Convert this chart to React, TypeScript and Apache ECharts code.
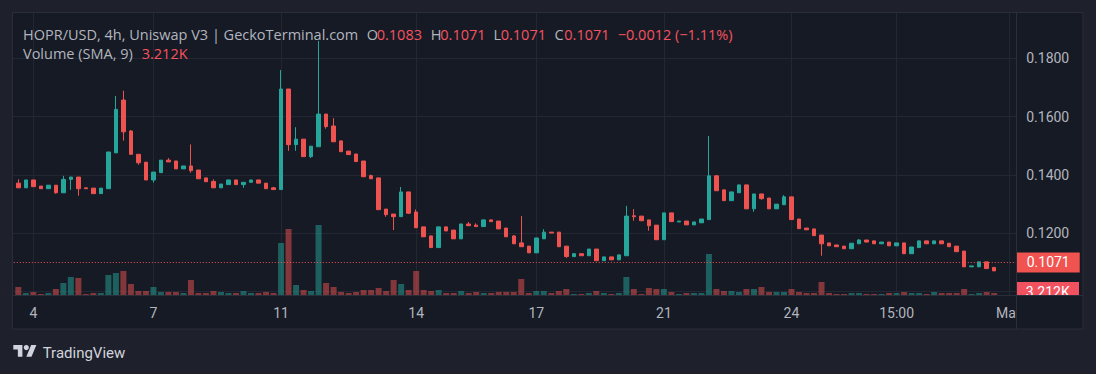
import React, { useEffect, useRef } from 'react';
import * as echarts from 'echarts';

// ---- data (HOPR/USD 4h candles) ----
const open = [
  0.1372, 0.1356, 0.1383, 0.1362, 0.1353, 0.1365, 0.1339, 0.1385, 0.1393, 0.1356,
  0.1355, 0.1336, 0.1353, 0.1476, 0.1657, 0.1551, 0.1471, 0.1444, 0.1383, 0.1408,
  0.1451, 0.1448, 0.1421, 0.1431, 0.1417, 0.1390, 0.1378, 0.1356, 0.1367, 0.1383,
  0.1367, 0.1375, 0.1383, 0.1372, 0.1356, 0.1350, 0.1695, 0.1504, 0.1523, 0.1463,
  0.1497, 0.1609, 0.1568, 0.1517, 0.1482, 0.1472, 0.1448, 0.1398, 0.1390, 0.1283,
  0.1266, 0.1257, 0.1342, 0.1273, 0.1222, 0.1191, 0.1151, 0.1222, 0.1211, 0.1181,
  0.1232, 0.1228, 0.1223, 0.1246, 0.1242, 0.1218, 0.1191, 0.1167, 0.1156, 0.1133,
  0.1181, 0.1204, 0.1204, 0.1156, 0.1120, 0.1130, 0.1123, 0.1146, 0.1106, 0.1119,
  0.1109, 0.1123, 0.1260, 0.1259, 0.1246, 0.1228, 0.1178, 0.1270, 0.1239, 0.1242,
  0.1229, 0.1236, 0.1247, 0.1397, 0.1349, 0.1312, 0.1339, 0.1366, 0.1284, 0.1335,
  0.1321, 0.1284, 0.1298, 0.1325, 0.1249, 0.1218, 0.1215, 0.1194, 0.1167, 0.1160,
  0.1156, 0.1147, 0.1164, 0.1177, 0.1174, 0.1164, 0.1170, 0.1157, 0.1167, 0.1130,
  0.1151, 0.1174, 0.1164, 0.1174, 0.1166, 0.1156, 0.1139, 0.1085, 0.1085, 0.1102,
  0.1083,
];
const close = [
  0.1356, 0.1383, 0.1360, 0.1353, 0.1365, 0.1339, 0.1385, 0.1393, 0.1353, 0.1353,
  0.1336, 0.1355, 0.1479, 0.1625, 0.1548, 0.1471, 0.1442, 0.1383, 0.1410, 0.1451,
  0.1445, 0.1421, 0.1431, 0.1415, 0.1387, 0.1377, 0.1356, 0.1369, 0.1383, 0.1367,
  0.1375, 0.1383, 0.1372, 0.1353, 0.1350, 0.1695, 0.1504, 0.1523, 0.1463, 0.1499,
  0.1609, 0.1566, 0.1514, 0.1480, 0.1470, 0.1446, 0.1394, 0.1387, 0.1281, 0.1264,
  0.1257, 0.1342, 0.1269, 0.1219, 0.1188, 0.1151, 0.1222, 0.1208, 0.1181, 0.1232,
  0.1226, 0.1223, 0.1246, 0.1240, 0.1215, 0.1188, 0.1164, 0.1154, 0.1133, 0.1184,
  0.1204, 0.1201, 0.1154, 0.1120, 0.1130, 0.1123, 0.1146, 0.1106, 0.1119, 0.1109,
  0.1126, 0.1259, 0.1257, 0.1243, 0.1226, 0.1178, 0.1270, 0.1240, 0.1242, 0.1229,
  0.1239, 0.1249, 0.1397, 0.1346, 0.1312, 0.1342, 0.1366, 0.1284, 0.1335, 0.1319,
  0.1284, 0.1300, 0.1325, 0.1247, 0.1216, 0.1212, 0.1192, 0.1164, 0.1157, 0.1154,
  0.1147, 0.1166, 0.1177, 0.1170, 0.1164, 0.1170, 0.1157, 0.1167, 0.1130, 0.1153,
  0.1174, 0.1164, 0.1174, 0.1164, 0.1154, 0.1137, 0.1085, 0.1088, 0.1102, 0.1079,
  0.1071,
];
const low = [
  0.1356, 0.1356, 0.1360, 0.1353, 0.1353, 0.1336, 0.1339, 0.1349, 0.1329, 0.1353,
  0.1336, 0.1336, 0.1353, 0.1476, 0.1518, 0.1471, 0.1435, 0.1383, 0.1374, 0.1408,
  0.1445, 0.1421, 0.1421, 0.1408, 0.1387, 0.1377, 0.1356, 0.1356, 0.1367, 0.1367,
  0.1356, 0.1375, 0.1372, 0.1353, 0.1350, 0.1350, 0.1483, 0.1483, 0.1463, 0.1458,
  0.1497, 0.1559, 0.1514, 0.1480, 0.1470, 0.1446, 0.1394, 0.1387, 0.1281, 0.1257,
  0.1211, 0.1257, 0.1266, 0.1219, 0.1188, 0.1151, 0.1151, 0.1208, 0.1181, 0.1181,
  0.1226, 0.1223, 0.1223, 0.1240, 0.1215, 0.1188, 0.1164, 0.1154, 0.1133, 0.1133,
  0.1181, 0.1201, 0.1154, 0.1116, 0.1120, 0.1123, 0.1123, 0.1106, 0.1106, 0.1109,
  0.1109, 0.1123, 0.1243, 0.1243, 0.1209, 0.1178, 0.1178, 0.1240, 0.1239, 0.1229,
  0.1229, 0.1236, 0.1247, 0.1346, 0.1312, 0.1312, 0.1339, 0.1284, 0.1274, 0.1315,
  0.1284, 0.1284, 0.1298, 0.1247, 0.1216, 0.1212, 0.1192, 0.1123, 0.1157, 0.1154,
  0.1147, 0.1147, 0.1164, 0.1170, 0.1164, 0.1164, 0.1157, 0.1157, 0.1130, 0.1130,
  0.1151, 0.1164, 0.1164, 0.1164, 0.1154, 0.1137, 0.1085, 0.1085, 0.1085, 0.1079,
  0.1071,
];
const high = [
  0.1385, 0.1383, 0.1383, 0.1362, 0.1365, 0.1365, 0.1397, 0.1393, 0.1393, 0.1356,
  0.1355, 0.1355, 0.1479, 0.1671, 0.1689, 0.1554, 0.1471, 0.1444, 0.1410, 0.1451,
  0.1458, 0.1448, 0.1431, 0.1505, 0.1417, 0.1390, 0.1385, 0.1369, 0.1383, 0.1383,
  0.1375, 0.1383, 0.1383, 0.1372, 0.1359, 0.1760, 0.1695, 0.1564, 0.1523, 0.1499,
  0.1860, 0.1609, 0.1595, 0.1517, 0.1482, 0.1472, 0.1448, 0.1401, 0.1390, 0.1283,
  0.1266, 0.1359, 0.1342, 0.1282, 0.1222, 0.1191, 0.1222, 0.1222, 0.1211, 0.1232,
  0.1239, 0.1234, 0.1246, 0.1246, 0.1242, 0.1218, 0.1194, 0.1259, 0.1156, 0.1184,
  0.1214, 0.1204, 0.1204, 0.1156, 0.1130, 0.1130, 0.1146, 0.1146, 0.1119, 0.1119,
  0.1126, 0.1294, 0.1283, 0.1259, 0.1246, 0.1228, 0.1270, 0.1270, 0.1242, 0.1242,
  0.1239, 0.1249, 0.1534, 0.1400, 0.1349, 0.1342, 0.1366, 0.1366, 0.1335, 0.1335,
  0.1321, 0.1300, 0.1331, 0.1325, 0.1249, 0.1218, 0.1215, 0.1194, 0.1167, 0.1160,
  0.1156, 0.1166, 0.1180, 0.1177, 0.1174, 0.1170, 0.1170, 0.1167, 0.1167, 0.1153,
  0.1174, 0.1174, 0.1174, 0.1174, 0.1166, 0.1156, 0.1139, 0.1088, 0.1102, 0.1102,
  0.1083,
];
// volume in thousands (K)
const volumeK = [
  10, 2.5, 3.8, 1.3, 2.5, 7.5, 15, 22.5, 21.3, 1.3,
  2.5, 2.5, 25, 27.5, 30, 13.8, 5, 5, 10, 3.8,
  3.8, 3.8, 2.5, 18.8, 2.5, 2.5, 5, 3.8, 2.5, 2.5,
  5, 2.5, 2.5, 3.8, 2.5, 65, 82.5, 12.5, 6.3, 5,
  87.5, 15, 10, 3.8, 2.5, 3.8, 6.3, 6.3, 8.8, 5,
  18.8, 13.8, 6.3, 30, 6.3, 5, 6.3, 2.5, 2.5, 5,
  2.5, 3.8, 2.5, 2.5, 3.8, 3.8, 3.8, 20, 2.5, 5,
  5, 2.5, 5, 7.5, 1.3, 1.3, 2.5, 5, 2.5, 1.3,
  2.5, 22.5, 7.5, 1.3, 8.8, 7.5, 7.5, 3.8, 1.3, 2.5,
  2.5, 2.5, 51.3, 7.5, 5, 5, 3.8, 7.5, 7.5, 10,
  3.8, 3.8, 3.8, 7.5, 3.8, 2.5, 2.5, 16.3, 2.5, 1.3,
  1.3, 2.5, 2.5, 1.3, 1.3, 1.3, 2.5, 2.5, 3.8, 2.5,
  2.5, 1.3, 3.8, 2.5, 2.5, 2.5, 7.5, 1.3, 2.5, 3.8,
  2.5,
];
const tickLabels = ['4', '7', '11', '14', '17', '21', '24', '15:00', 'May'];
const tickCandleIndex = [2, 18, 35, 53, 69, 86, 103, 117, 132];
const lastPrice = 0.1071;
const volumeSma = '3.212K';
const headerTitle = 'HOPR/USD, 4h, Uniswap V3 | GeckoTerminal.com';
const ohlcText = { O: '0.1083', H: '0.1071', L: '0.1071', C: '0.1071' };
const changeText = '\u22120.0012 (\u22121.11%)';
const priceMin = 0.08;
const priceMax = 0.2;
const priceStep = 0.02;

// ---- style ----
const UP = '#26a69a';
const DOWN = '#ef5350';
const UP_VOL = 'rgba(38,166,154,0.5)';
const DOWN_VOL = 'rgba(239,83,80,0.5)';
const PANEL = '#161a25';
const OUTER = '#1e212c';
const BORDER = '#2a2e39';
const GRID = '#232733';
const TEXT = '#b2b5be';
const RED_TEXT = '#f7525f';
const FONT = 'Roboto, "Noto Sans", sans-serif';
const LEGEND_FONT = '"Open Sans", "Noto Sans", sans-serif';

echarts.graphic.registerShape(
  'tvlogo',
  echarts.graphic.extendPath('M14 22H7V11H0V4h14v18zM28 22h-8l7.5-18h8L28 22z', {}) as any
);

const LEAD = 1;
const TRAIL = 3;
const nCats = LEAD + open.length + TRAIL;
const categories: string[] = Array.from({ length: nCats }, () => '');
tickCandleIndex.forEach((ci, k) => {
  categories[ci + LEAD] = tickLabels[k];
});

export default function App() {
  const ref = useRef<HTMLDivElement>(null);
  useEffect(() => {
    const chart = echarts.init(ref.current!, null, { renderer: 'svg' });
    const candleData = open.map((o, i) => [i + LEAD, o, close[i], low[i], high[i]]);
    const volData = volumeK.map((v, i) => ({
      value: [i + LEAD, v],
      itemStyle: { color: close[i] >= open[i] ? UP_VOL : DOWN_VOL },
    }));
    const isTick = (idx: number) => categories[idx] !== '';
    const gx = { left: 10.8, width: 1005.9 };

    const t = (x: number, y: number, text: string, fill: string) => ({
      type: 'text',
      x,
      y,
      z: 110,
      style: { text, fill, font: `14.5px ${LEGEND_FONT}`, verticalAlign: 'middle' },
    });

    chart.setOption({
      animation: false,
      backgroundColor: PANEL,
      textStyle: { fontFamily: FONT },
      grid: [
        { ...gx, top: 0.1, height: 349.8 },
        { ...gx, top: 13, height: 282 },
      ],
      xAxis: [
        {
          type: 'category',
          gridIndex: 0,
          data: categories,
          boundaryGap: false,
          axisLine: { show: false },
          axisTick: { show: false },
          axisLabel: { show: false },
          splitLine: { show: false },
        },
        {
          type: 'category',
          gridIndex: 1,
          data: categories,
          boundaryGap: false,
          axisLine: { show: false },
          axisTick: { show: false },
          axisLabel: {
            interval: (idx: number) => isTick(idx),
            color: TEXT,
            fontSize: 14,
            margin: 11,
          },
          splitLine: {
            show: true,
            interval: (idx: number) => isTick(idx),
            lineStyle: { color: GRID, width: 1 },
          },
        },
      ],
      yAxis: [
        {
          type: 'value',
          gridIndex: 0,
          position: 'right',
          min: priceMin,
          max: priceMax,
          interval: priceStep,
          axisLine: { show: false },
          axisTick: { show: false },
          axisLabel: {
            color: TEXT,
            fontSize: 14,
            margin: 9.5,
            formatter: (v: number) => (v > 0.19 || v < 0.11 ? '' : v.toFixed(4)),
          },
          splitLine: { show: true, lineStyle: { color: GRID, width: 1 } },
        },
        {
          type: 'value',
          gridIndex: 1,
          min: 0,
          max: 352.5,
          show: false,
          splitLine: { show: false },
        },
      ],
      series: [
        {
          type: 'bar',
          xAxisIndex: 1,
          yAxisIndex: 1,
          data: volData,
          barWidth: 6,
          z: 1,
          silent: true,
        },
        {
          type: 'candlestick',
          xAxisIndex: 0,
          yAxisIndex: 0,
          data: candleData,
          encode: { x: 0, y: [1, 2, 3, 4] },
          barWidth: 4,
          z: 3,
          itemStyle: {
            color: UP,
            color0: DOWN,
            borderColor: UP,
            borderColor0: DOWN,
            borderWidth: 1,
          },
          markLine: {
            silent: true,
            symbol: ['none', 'none'],
            animation: false,
            lineStyle: { color: DOWN, type: [1, 2], width: 1 },
            label: {
              show: true,
              position: 'end',
              distance: 0,
              formatter: lastPrice.toFixed(4),
              backgroundColor: '#f05350',
              color: '#ffffff',
              fontSize: 14,
              lineHeight: 14,
              padding: [3, 10, 3, 10],
            },
            emphasis: { disabled: true },
            data: [{ yAxis: lastPrice }],
          },
        },
      ],
      graphic: [
        // volume SMA label on the price scale
        { type: 'rect', z: 40, shape: { x: 1016.5, y: 282, width: 62.5, height: 16 }, style: { fill: '#f2525f' } },
        { type: 'text', z: 41, x: 1047.7, y: 292, style: { text: volumeSma, fill: '#ffffff', font: `14px ${FONT}`, align: 'center', verticalAlign: 'middle' } },
        // bottom-right corner of the time scale
        { type: 'rect', z: 50, shape: { x: 1017, y: 295.5, width: 66, height: 34 }, style: { fill: PANEL } },
        // outer frame
        { type: 'rect', z: 100, shape: { x: 0, y: 0, width: 1096, height: 12.5 }, style: { fill: OUTER } },
        { type: 'rect', z: 100, shape: { x: 0, y: 329, width: 1096, height: 45 }, style: { fill: OUTER } },
        { type: 'rect', z: 100, shape: { x: 0, y: 0, width: 12.5, height: 374 }, style: { fill: OUTER } },
        { type: 'rect', z: 100, shape: { x: 1083, y: 0, width: 13, height: 374 }, style: { fill: OUTER } },
        { type: 'rect', z: 101, shape: { x: 12.5, y: 12.5, width: 1070.5, height: 316.5 }, style: { fill: 'none', stroke: BORDER, lineWidth: 1 } },
        { type: 'line', z: 101, shape: { x1: 1016.5, y1: 12.5, x2: 1016.5, y2: 329 }, style: { stroke: BORDER, lineWidth: 1 } },
        { type: 'line', z: 101, shape: { x1: 12.5, y1: 295.5, x2: 1083, y2: 295.5 }, style: { stroke: BORDER, lineWidth: 1 } },
        // legend
        t(23, 34, headerTitle, TEXT),
        t(366.7, 34, 'O', TEXT),
        t(376.7, 34, ohlcText.O, RED_TEXT),
        t(430.7, 34, 'H', TEXT),
        t(440.3, 34, ohlcText.H, RED_TEXT),
        t(493.5, 34, 'L', TEXT),
        t(500.7, 34, ohlcText.L, RED_TEXT),
        t(554.5, 34, 'C', TEXT),
        t(564.3, 34, ohlcText.C, RED_TEXT),
        t(617.7, 34, changeText, RED_TEXT),
        t(23, 53.5, 'Volume (SMA, 9)', TEXT),
        t(141.7, 53.5, volumeSma, RED_TEXT),
        // TradingView logo
        { type: 'tvlogo', z: 110, x: 13.3, y: 342.4, scaleX: 0.65, scaleY: 0.65, style: { fill: '#d1d4dc' } },
        { type: 'circle', z: 110, shape: { cx: 26.3, cy: 347.6, r: 2.6 }, style: { fill: '#d1d4dc' } },
        { type: 'text', z: 110, x: 42.7, y: 352.5, style: { text: 'TradingView', fill: '#d1d4dc', font: `15px ${FONT}`, verticalAlign: 'middle' } },
      ],
    });
    return () => chart.dispose();
  }, []);
  return <div ref={ref} style={{ position: 'absolute', left: 0, top: 0, width: 1096, height: 374 }} />;
}
